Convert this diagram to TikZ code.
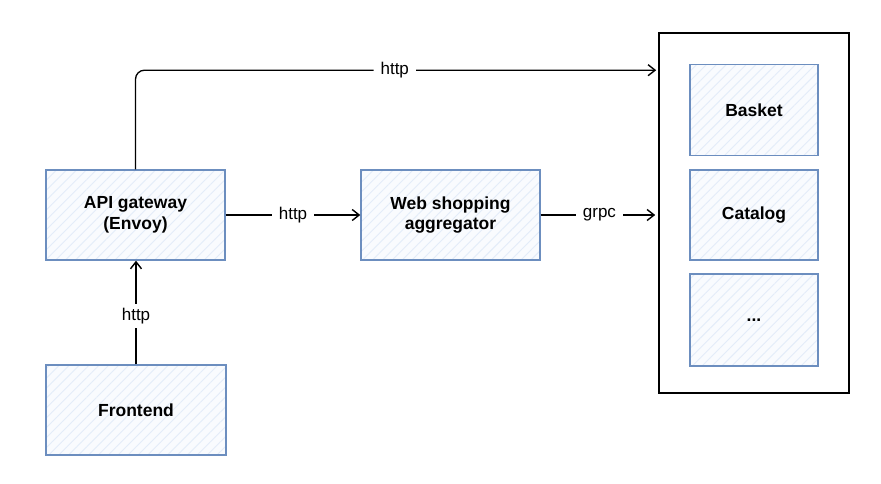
\documentclass[tikz,border=0pt]{standalone}
\usepackage{fontspec}
\setmainfont{Liberation Sans}
\usetikzlibrary{arrows.meta,patterns.meta}
\definecolor{bluestroke}{HTML}{6C8EBF}
\definecolor{bluehatch}{HTML}{E3ECF9}
\definecolor{bluebg}{HTML}{F9FBFE}
\tikzset{
  svc/.style={draw=bluestroke, line width=1.4pt,
    preaction={fill=bluebg},
    preaction={pattern={Lines[angle=45,distance=7pt,line width=0.9pt]}, pattern color=bluehatch},
    font=\fontsize{17.5}{20.5}\selectfont\bfseries, align=center, inner sep=0pt},
  container/.style={draw=black, line width=1.6pt, minimum width=190pt, minimum height=360pt},
  arr/.style={draw=black, line width=1.3pt, -{Straight Barb[length=7pt,width=11pt,line width=1.4pt]}},
  lbl/.style={fill=white, inner xsep=7pt, inner ysep=4pt, font=\fontsize{17}{19}\selectfont}
}
\begin{document}
\begin{tikzpicture}[x=1pt,y=-1pt]
\useasboundingbox (0,0) rectangle (881,484);
% nodes
\node[svc, minimum width=179pt, minimum height=90pt] (gw) at (135.5,215) {API gateway\\(Envoy)};
\node[svc, minimum width=180pt, minimum height=90pt] (fe) at (136,410) {Frontend};
\node[svc, minimum width=179pt, minimum height=90pt] (agg) at (450.5,215) {Web shopping\\aggregator};
\node[container] (cont) at (754,213) {};
\node[svc, minimum width=128pt, minimum height=91pt] (basket) at (754,110) {Basket};
\node[svc, minimum width=128pt, minimum height=90pt] (catalog) at (754,215) {Catalog};
\node[svc, minimum width=128pt, minimum height=92pt] (more) at (754,320) {...};
% connectors
\draw[arr] (fe.north) -- node[lbl, pos=0.47] {http} (fe.north |- gw.south);
\draw[arr] (gw.east) -- node[lbl] {http} (agg.west);
\draw[arr, shorten >=3pt] (agg.east) -- node[lbl] {grpc} (agg.east -| cont.west);
\draw[arr, rounded corners=9pt, shorten >=2pt] (gw.north) |- node[lbl, pos=0.748] {http} ([yshift=-38pt]cont.north west);
\end{tikzpicture}
\end{document}
